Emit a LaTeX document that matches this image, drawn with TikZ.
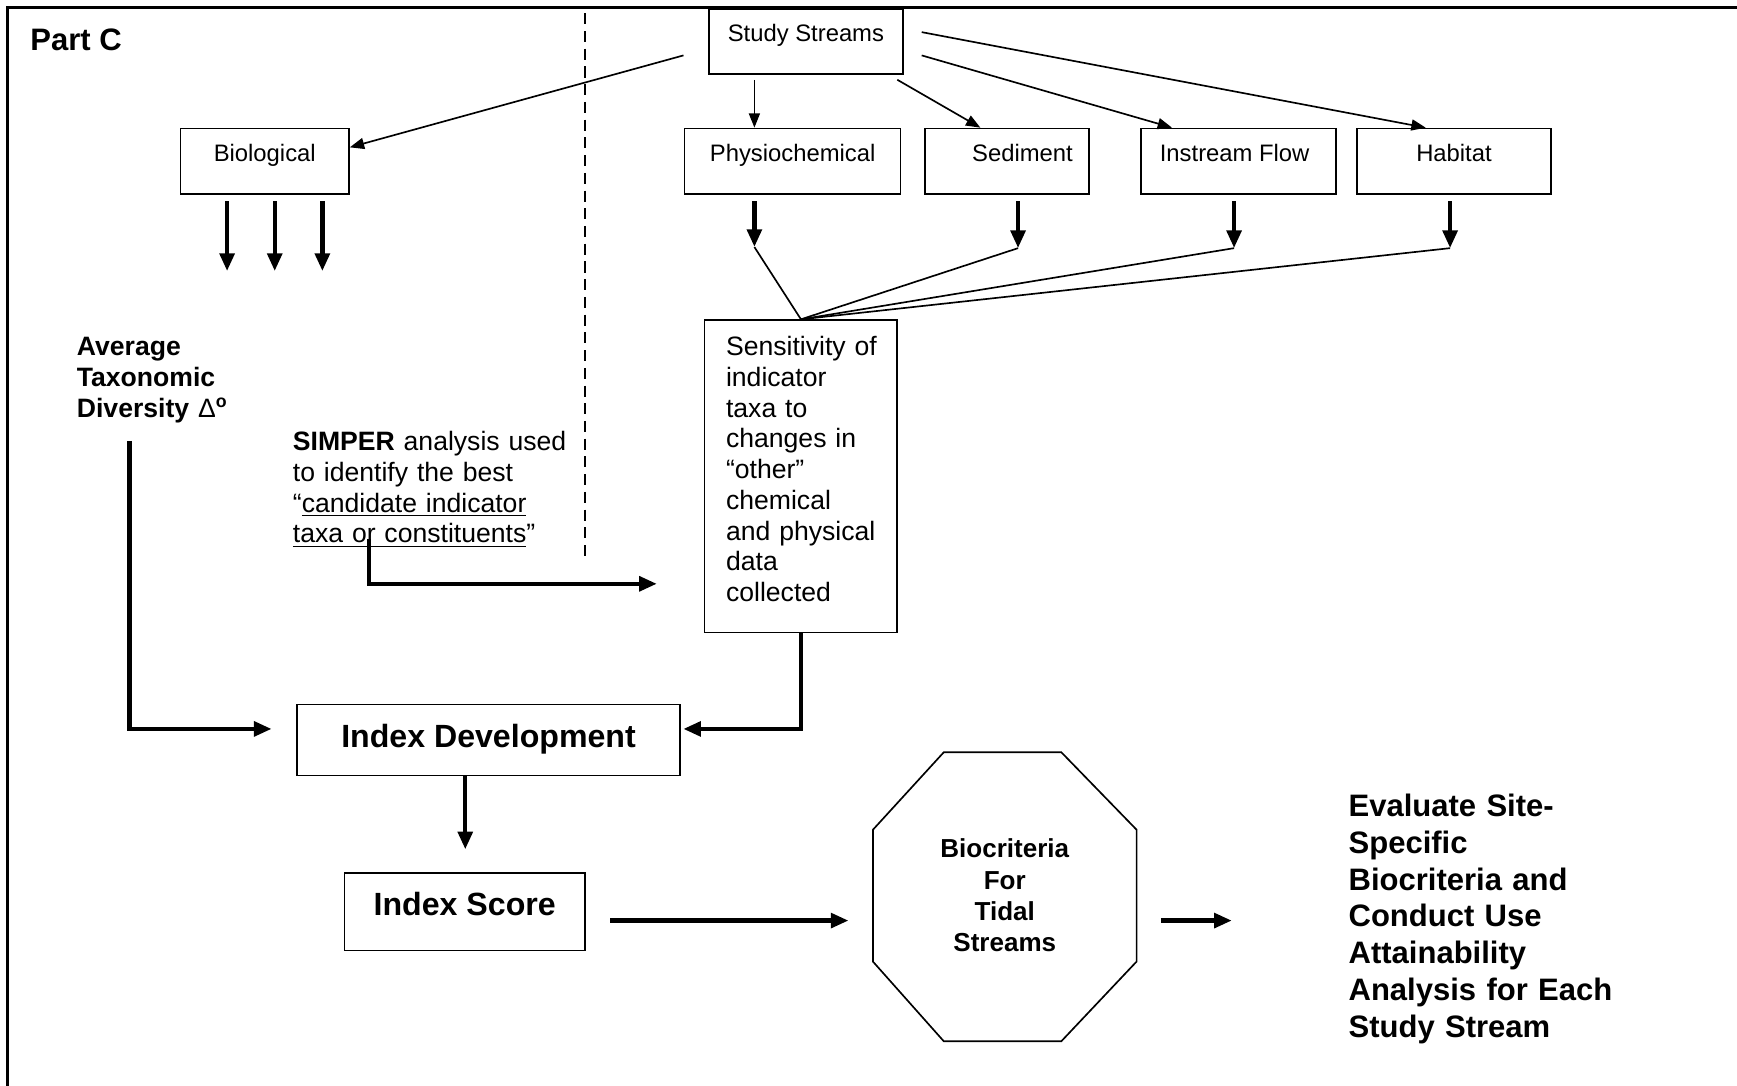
\documentclass[tikz,border=0pt]{standalone}
\usepackage{fontspec}
\setmainfont{Liberation Sans}
\usetikzlibrary{arrows.meta,calc}

\tikzset{
  thinline/.style={line width=0.75pt},
  thinarrow/.style={line width=0.75pt,-{Triangle[length=6.5pt,width=5pt]}},
  thickarrow/.style={line width=2pt,-{Triangle[length=8pt,width=6.5pt]}},
  box/.style={draw,line width=0.75pt,inner sep=0pt,
    font=\fontsize{10.75pt}{12pt}\selectfont,
    text height=14.75pt,text depth=14.75pt},
  bigbox/.style={draw,line width=0.75pt,inner sep=0pt,
    font=\bfseries\fontsize{14.5pt}{17pt}\selectfont},
  body/.style={inner sep=0pt,anchor=base west,align=left},
}

\begin{document}
\begin{tikzpicture}[x=0.5pt,y=-0.5pt]
\useasboundingbox (0,0) rectangle (1568,980);

% outer frame (top and left edges)
\draw[line width=1.25pt] (7,980) -- (7,7) -- (1568,7);

% dashed divider
\draw[line width=0.75pt,dash pattern=on 5pt off 3pt] (528,12) -- (528,505);

\node[body,font=\bfseries\fontsize{14pt}{16pt}\selectfont] (partc) at (27,46) {Part C};

% data-type boxes
\node[box,minimum width=87.5pt] (study) at (727.5,37.5) {Study Streams};
\node[box,minimum width=76pt]   (bio)   at (239,145.5) {Biological};
\node[box,minimum width=97.5pt] (phys)  at (715.5,145.5) {Physiochemical};
\node[box,minimum width=74pt]   (sed)   at (909,145.5) {\hspace*{14pt}Sediment};
\node[box,minimum width=88pt]   (flow)  at (1118,145.5) {\hspace*{-3.5pt}Instream Flow};
\node[box,minimum width=87.5pt] (hab)   at (1312.5,145.5) {Habitat};

% study streams fan-out
\coordinate (s2b) at (617,50);
\coordinate (s2p) at (681,72);
\coordinate (s2s) at (810,72);
\coordinate (s2f) at (832,50);
\coordinate (s2h) at (832,29);
\draw[thinarrow] (s2b) -- ([yshift=6.25pt]bio.east);
\draw[thinarrow] (s2p) -- (s2p |- phys.north);
\draw[thinarrow] (s2s) -- ([xshift=-12pt]sed.north);
\draw[thinarrow] (s2f) -- ([xshift=-30pt]flow.north);
\draw[thinarrow] (s2h) -- ([xshift=-12.75pt]hab.north);

% biological outputs
\foreach \dx in {-17,4.5,26}
  \draw[thickarrow] ([xshift=\dx pt,yshift=-3pt]bio.south) -- ++(0,63);

% sensitivity box
\node[draw,line width=0.75pt,minimum width=87pt,minimum height=141pt,inner sep=0pt] (sens) at (723,430) {};
\node[body,font=\fontsize{12pt}{13.875pt}\selectfont,text width=78pt] (senstext) at (655,321)
  {Sensitivity of\\indicator\\taxa to\\changes in\\“other”\\chemical\\and physical\\data\\collected};

% chemical / physical outputs merging into the sensitivity box
\coordinate (tp) at (681,223);
\coordinate (ts) at (919,224);
\coordinate (tf) at (1114,224);
\coordinate (th) at (1309,224);
\draw[thickarrow] ([yshift=-3pt]phys.south -| tp) -- (tp);
\draw[thickarrow] ([yshift=-3pt]sed.south -| ts) -- (ts);
\draw[thickarrow] ([yshift=-3pt]flow.south -| tf) -- (tf);
\draw[thickarrow] ([yshift=-3pt]hab.south -| th) -- (th);
\foreach \t in {tp,ts,tf,th}
  \draw[thinline] (\t) -- (sens.north);

% left column texts
\node[body,font=\bfseries\fontsize{12pt}{14pt}\selectfont,text width=80pt] (avg) at (69,321)
  {Average\\Taxonomic\\Diversity {\mdseries Δ}\textsuperscript{o}};
\node[body,font=\fontsize{12pt}{13.85pt}\selectfont,text width=130pt] (simper) at (264,407)
  {\textbf{SIMPER} analysis used\\to identify the best\\“\underline{candidate indicator}\\\underline{taxa or constituents}”};

% index boxes
\node[bigbox,minimum width=173pt,text height=19.25pt,text depth=12.75pt] (idx) at (441,668) {Index Development};
\node[bigbox,minimum width=108.5pt,text height=19.25pt,text depth=15.75pt] (score) at (419.5,823) {Index Score};

\coordinate (a0) at (117,398);
\draw[thickarrow] (a0) |- ([xshift=-11pt,yshift=5pt]idx.west);
\coordinate (m0) at (333,487);
\coordinate (m1) at (593,527);
\draw[thickarrow] (m0) |- (m1);
\draw[thickarrow] (sens.south) |- ([xshift=1pt,yshift=5pt]idx.east);
\draw[thickarrow] ([xshift=-10.5pt]idx.south) -- ++(0,66);

% biocriteria octagon
\coordinate (o1) at (852,679);
\coordinate (o2) at (958,679);
\coordinate (o3) at (1026,749);
\coordinate (o4) at (1026,868);
\coordinate (o5) at (958,940);
\coordinate (o6) at (852,940);
\coordinate (o7) at (788,868);
\coordinate (o8) at (788,749);
\draw[thinline] (o1) -- (o2) -- (o3) -- (o4) -- (o5) -- (o6) -- (o7) -- (o8) -- cycle;
\node[inner sep=0pt,anchor=base,align=center,text width=70pt,
  font=\bfseries\fontsize{11.75pt}{14pt}\selectfont] (bioc) at (907,774.5)
  {Biocriteria\\For\\Tidal\\Streams};

\coordinate (c1) at (766,831);
\draw[thickarrow] ([xshift=11pt,yshift=-4pt]score.east) -- (c1);
\coordinate (e0) at (1048,831);
\coordinate (e1) at (1112,831);
\draw[thickarrow] (e0) -- (e1);

\node[body,font=\bfseries\fontsize{14pt}{16.6pt}\selectfont,text width=140pt] (eval) at (1217,737)
  {Evaluate Site-\\Specific\\Biocriteria and\\Conduct Use\\Attainability\\Analysis for Each\\Study Stream};
\end{tikzpicture}
\end{document}
